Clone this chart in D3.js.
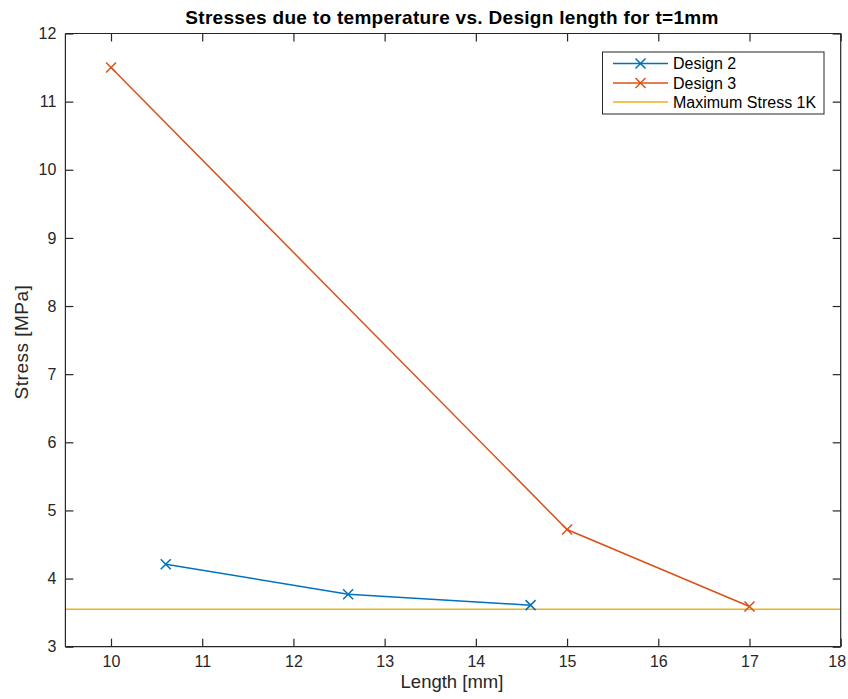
<!DOCTYPE html>
<html><head><meta charset="utf-8">
<script src="https://cdn.jsdelivr.net/npm/d3@7"></script>
<style>body{margin:0;background:#fff;} text{font-family:"Liberation Sans",Arial,sans-serif;}</style>
</head><body>
<svg id="c" width="848" height="699"></svg>
<script>
const design2X = [10.6, 12.6, 14.6];
const design2Y = [4.21, 3.77, 3.61];
const design3X = [10, 15, 17];
const design3Y = [11.5, 4.72, 3.59];
const maxStress = 3.55;
const xTicks = [10, 11, 12, 13, 14, 15, 16, 17, 18];
const yTicks = [3, 4, 5, 6, 7, 8, 9, 10, 11, 12];
const seriesNames = ["Design 2", "Design 3", "Maximum Stress 1K"];
const colors = ["#0072BD", "#D95319", "#EDB120"];

const svg = d3.select("#c");
const L = 65.4, R = 840.7, T = 33.5, B = 646.7;
const x = d3.scaleLinear().domain([9.5, 18]).range([L, R]);
const y = d3.scaleLinear().domain([3, 12]).range([B, T]);
const axCol = "#262626";

svg.append("rect").attr("x", 0).attr("y", 0).attr("width", 848).attr("height", 699).attr("fill", "#fff");

// max stress line
svg.append("line").attr("x1", x(9.5)).attr("x2", x(18)).attr("y1", y(maxStress)).attr("y2", y(maxStress))
  .attr("stroke", colors[2]).attr("stroke-width", 1.5);

const line = d3.line().x(d => x(d[0])).y(d => y(d[1]));
function series(xs, ys, col) {
  const pts = xs.map((v, i) => [v, ys[i]]);
  svg.append("path").datum(pts).attr("d", line).attr("fill", "none").attr("stroke", col).attr("stroke-width", 1.5);
  const s = 5;
  pts.forEach(p => {
    const cx = x(p[0]), cy = y(p[1]);
    svg.append("path").attr("d", `M${cx-s},${cy-s}L${cx+s},${cy+s}M${cx-s},${cy+s}L${cx+s},${cy-s}`)
      .attr("stroke", col).attr("stroke-width", 1.5).attr("fill", "none");
  });
}
series(design2X, design2Y, colors[0]);
series(design3X, design3Y, colors[1]);

// axes
const tk = 8;
const gB = svg.append("g").attr("transform", `translate(0,${B})`)
  .call(d3.axisBottom(x).tickValues(xTicks).tickSize(-tk).tickPadding(9).tickFormat(d3.format("d")));
const gT = svg.append("g").attr("transform", `translate(0,${T})`)
  .call(d3.axisTop(x).tickValues(xTicks).tickSize(-tk).tickFormat(""));
const gL = svg.append("g").attr("transform", `translate(${L},0)`)
  .call(d3.axisLeft(y).tickValues(yTicks).tickSize(-tk).tickPadding(9).tickFormat(d3.format("d")));
const gR = svg.append("g").attr("transform", `translate(${R},0)`)
  .call(d3.axisRight(y).tickValues(yTicks).tickSize(-tk).tickFormat(""));
[gB, gT, gL, gR].forEach(g => {
  g.select(".domain").attr("stroke", axCol).attr("stroke-width", 1.2);
  g.selectAll(".tick line").attr("stroke", axCol).attr("stroke-width", 1.2);
  g.selectAll(".tick text").attr("fill", axCol).style("font-size", "16px").style("font-family", '"Liberation Sans",Arial,sans-serif');
});
gB.selectAll(".domain").attr("d", `M${L},0H${R}`);
gT.selectAll(".domain").attr("d", `M${L},0H${R}`);
gL.selectAll(".domain").attr("d", `M0,${B}V${T}`);
gR.selectAll(".domain").attr("d", `M0,${B}V${T}`);
// keep last x tick label inside the picture
gB.selectAll(".tick text").filter(d => d === 18).attr("dx", "-4px");

// title & labels
svg.append("text").attr("x", 452).attr("y", 24).attr("text-anchor", "middle")
  .style("font-size", "19px").style("font-weight", "bold").style("letter-spacing", "0.3px").attr("fill", "#000")
  .text("Stresses due to temperature vs. Design length for t=1mm");
svg.append("text").attr("x", 452).attr("y", 688).attr("text-anchor", "middle")
  .style("font-size", "18.5px").attr("fill", axCol).text("Length [mm]");
svg.append("text").attr("transform", `translate(28,342) rotate(-90)`).attr("text-anchor", "middle")
  .style("font-size", "19px").style("letter-spacing", "0.5px").attr("fill", axCol).text("Stress [MPa]");

// legend
const lg = svg.append("g");
lg.append("rect").attr("x", 602.5).attr("y", 52).attr("width", 221.5).attr("height", 62)
  .attr("fill", "#fff").attr("stroke", axCol).attr("stroke-width", 1);
const ly = [63.5, 83, 102];
seriesNames.forEach((n, i) => {
  lg.append("line").attr("x1", 613).attr("x2", 668).attr("y1", ly[i]).attr("y2", ly[i])
    .attr("stroke", colors[i]).attr("stroke-width", 1.5);
  if (i < 2) {
    const cx = 640.5, cy = ly[i], s = 5;
    lg.append("path").attr("d", `M${cx-s},${cy-s}L${cx+s},${cy+s}M${cx-s},${cy+s}L${cx+s},${cy-s}`)
      .attr("stroke", colors[i]).attr("stroke-width", 1.5);
  }
  lg.append("text").attr("x", 673).attr("y", ly[i] + 5.5).style("font-size", "16px").attr("fill", "#000").text(n);
});
</script>
</body></html>
